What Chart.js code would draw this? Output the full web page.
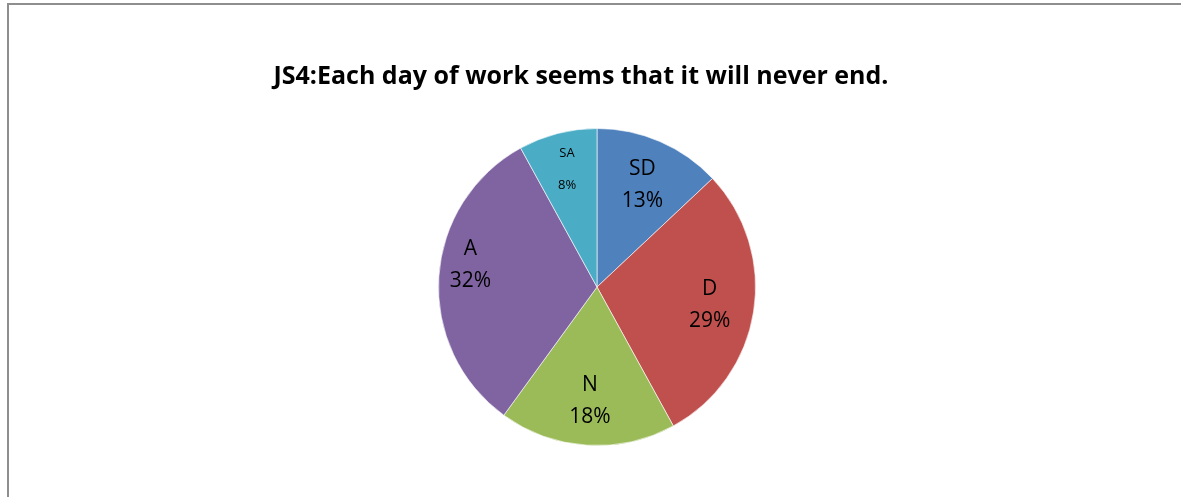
<!DOCTYPE html>
<html>
<head>
  <meta charset="UTF-8" />
  <title>JS4 pie</title>
  <script src="https://cdn.jsdelivr.net/npm/chart.js"></script>
  <style>
    html, body {
      margin: 0;
      padding: 0;
      background: #fff;
      overflow: hidden;
    }

    #frame {
      position: absolute;
      left: 7px;
      top: 3px;
      width: 1190px;
      height: 510px;
      border: 2px solid #8e8e8e;
      box-sizing: border-box;
    }

    #wrap {
      position: absolute;
      left: 0;
      top: 0;
      width: 1181px;
      height: 497px;
    }
  </style>
</head>
<body>
  <div id="frame"></div>
  <div id="wrap"><canvas id="chart"></canvas></div>

  <script>
    const categories = ['SD', 'D', 'N', 'A', 'SA'];
    const values = [13, 29, 18, 32, 8];
    const sliceColors = ['#4F81BD', '#C0504D', '#9BBB59', '#8064A2', '#4BACC6'];
    const chartTitle = 'JS4:Each day of work seems that it will never end.';

    // title + in-slice labels (category over percentage)
    const labelPlugin = {
      id: 'sliceLabels',
      afterDraw(chart) {
        const ctx = chart.ctx;
        ctx.save();
        ctx.fillStyle = '#000';
        ctx.textAlign = 'center';
        ctx.textBaseline = 'middle';

        ctx.font = 'bold 25px "Open Sans", sans-serif';
        ctx.fillText(chartTitle, 581, 77);

        const meta = chart.getDatasetMeta(0);
        const total = values.reduce((a, b) => a + b, 0);
        meta.data.forEach((arc, i) => {
          const mid = (arc.startAngle + arc.endAngle) / 2;
          let r = arc.outerRadius * 0.72;
          let dy = 0;
          if (i === 0) dy = 3;
          if (i === 3) { r = arc.outerRadius * 0.8; dy = -14; }
          if (i === 4) { r = arc.outerRadius * 0.76; dy = -1; }
          const x = arc.x + Math.cos(mid) * r;
          const y = arc.y + Math.sin(mid) * r + dy;
          const pct = Math.round(values[i] / total * 100) + '%';
          const small = values[i] < 10;
          ctx.font = (small ? '13px' : '21px') + ' "Open Sans", sans-serif';
          ctx.fillText(categories[i], x, y - 16);
          ctx.fillText(pct, x, y + 16);
        });
        ctx.restore();
      }
    };

    new Chart(document.getElementById('chart').getContext('2d'), {
      type: 'pie',
      data: {
        labels: categories,
        datasets: [{
          data: values,
          backgroundColor: sliceColors,
          borderColor: 'rgba(255,255,255,0.6)',
          borderWidth: 1
        }]
      },
      options: {
        responsive: true,
        maintainAspectRatio: false,
        animation: false,
        layout: {
          padding: { top: 128, bottom: 51, left: 13, right: 0 }
        },
        plugins: {
          legend: { display: false },
          tooltip: { enabled: false },
          title: { display: false }
        }
      },
      plugins: [labelPlugin]
    });
  </script>
</body>
</html>
